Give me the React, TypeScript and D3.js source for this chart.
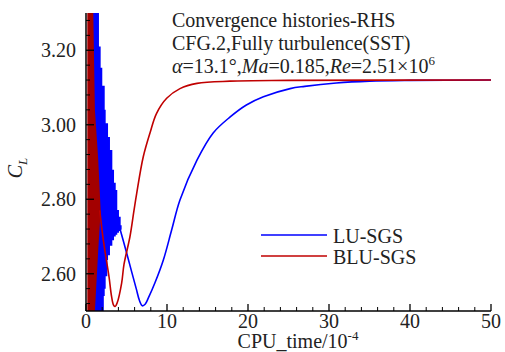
import React from "react";
import * as d3 from "d3";

// ---- data ----
const xTicks = [0, 10, 20, 30, 40, 50];
const yTicks = [2.6, 2.8, 3.0, 3.2];

// dense oscillation envelopes: [cpu_time, lower, upper]
const luBand: [number, number, number][] = [
  [0.3, 2.5, 3.3],
  [1.6, 2.5, 3.21],
  [1.81, 2.5, 3.153],
  [2.01, 2.5, 3.105],
  [2.2, 2.54, 3.105],
  [2.31, 2.56, 3.04],
  [2.43, 2.593, 3.004],
  [2.63, 2.637, 3.004],
  [2.72, 2.65, 2.967],
  [2.96, 2.675, 2.932],
  [3.25, 2.69, 2.879],
  [3.46, 2.7, 2.844],
  [3.67, 2.705, 2.825],
  [3.86, 2.71, 2.771],
  [4.07, 2.715, 2.753],
  [4.28, 2.718, 2.73],
  [4.4, 2.718, 2.72],
];
const bluBand: [number, number, number][] = [
  [0.16, 2.5, 3.3],
  [0.9, 2.5, 3.3],
  [1.1, 2.5, 3.04],
  [1.5, 2.66, 2.91],
  [1.8, 2.765, 2.775],
];

// smooth parts: [cpu_time, CL]
const luLine: [number, number][] = [
  [4.2, 2.72], [4.9, 2.665], [5.64, 2.605], [6.2, 2.56], [6.6, 2.528],
  [6.95, 2.514], [7.3, 2.518], [7.7, 2.535], [8.5, 2.575], [9.55, 2.637],
  [10.58, 2.718], [11.6, 2.798], [13.7, 2.905], [15.7, 2.978], [17.8, 3.021],
  [19.8, 3.053], [21.9, 3.075], [25.2, 3.097], [27, 3.103], [30.9, 3.112],
  [35, 3.117], [40, 3.119], [50, 3.12],
];
const bluLine: [number, number][] = [
  [1.7, 2.77], [2.14, 2.69], [2.84, 2.592], [3.15, 2.54], [3.4, 2.516],
  [3.6, 2.512], [3.85, 2.522], [4.4, 2.575], [4.69, 2.625], [5.43, 2.7],
  [5.93, 2.771], [6.26, 2.816], [7.07, 2.914], [7.9, 2.978], [8.7, 3.03],
  [9.96, 3.071], [11.6, 3.097], [13.7, 3.111], [17.8, 3.117], [25, 3.119],
  [50, 3.12],
];

const BLUE = "#0000ff";
const RED = "#c00000";
const RED_FILL = "#a30000";
const FONT = "Liberation Serif, Times New Roman, serif";
const TXT = "#222";

export default function App() {
  const W = 505, H = 352;
  const x = d3.scaleLinear().domain([0, 50]).range([86, 491]);
  const y = d3.scaleLinear().domain([2.5, 3.3]).range([311, 13]);

  const luArea =
    d3
      .area<[number, number, number]>()
      .x((d) => x(d[0]))
      .y0((d) => y(d[1]))
      .y1((d) => y(d[2]))
      .curve(d3.curveStepAfter)(luBand) || "";
  const bluArea =
    d3
      .area<[number, number, number]>()
      .x((d) => x(d[0]))
      .y0((d) => y(d[1]))
      .y1((d) => y(d[2]))(bluBand) || "";
  const line = d3
    .line<[number, number]>()
    .x((d) => x(d[0]))
    .y((d) => y(d[1]))
    .curve(d3.curveCatmullRom.alpha(0.5));

  const xMinor = d3.range(0, 50.001, 2).filter((v) => v % 10 !== 0);
  const yMinor = d3
    .range(2.52, 3.3, 0.04)
    .filter((v) => Math.abs(Math.round(v * 5) - v * 5) > 0.01);

  const ts = { fontFamily: FONT };

  return (
    <svg
      width={W}
      height={H}
      style={{ position: "absolute", left: 0, top: 0, background: "#fff", fontFamily: FONT }}
    >
      <defs>
        <clipPath id="plot">
          <rect x={86} y={13} width={405} height={298} />
        </clipPath>
      </defs>
      <g clipPath="url(#plot)">
        <path d={luArea} fill={BLUE} />
        <path d={line(luLine) || ""} fill="none" stroke={BLUE} strokeWidth={1.6} />
        <path d={bluArea} fill={RED_FILL} />
        <path d={line(bluLine) || ""} fill="none" stroke={RED} strokeWidth={1.6} />
      </g>

      {/* axes */}
      <line x1={x(0)} x2={x(50)} y1={y(2.5)} y2={y(2.5)} stroke="#000" strokeWidth={1.5} />
      <line x1={x(0)} x2={x(0)} y1={y(2.5)} y2={y(3.3)} stroke="#000" strokeWidth={1.5} />
      {xTicks.map((t) => (
        <g key={"xt" + t}>
          <line x1={x(t)} x2={x(t)} y1={y(2.5)} y2={y(2.5) - 7} stroke="#000" strokeWidth={1.3} />
          <text x={x(t)} y={328} textAnchor="middle" fontSize={20} fill={TXT} style={ts}>
            {t}
          </text>
        </g>
      ))}
      {xMinor.map((t) => (
        <line key={"xm" + t} x1={x(t)} x2={x(t)} y1={y(2.5)} y2={y(2.5) - 4} stroke="#000" strokeWidth={1} />
      ))}
      {yTicks.map((t) => (
        <g key={"yt" + t}>
          <line x1={x(0)} x2={x(0) + 8} y1={y(t)} y2={y(t)} stroke="#000" strokeWidth={1.3} />
          <text x={76} y={y(t) + 7} textAnchor="end" fontSize={20} fill={TXT} style={ts}>
            {t.toFixed(2)}
          </text>
        </g>
      ))}
      {yMinor.map((t) => (
        <line key={"ym" + t} x1={x(0)} x2={x(0) + 4} y1={y(t)} y2={y(t)} stroke="#000" strokeWidth={1} />
      ))}

      {/* axis titles */}
      <text x={298} y={348} textAnchor="middle" fontSize={20} fill={TXT} style={ts}>
        CPU_time/10
        <tspan fontSize={13} dy={-8}>-4</tspan>
      </text>
      <text
        transform="translate(22,168) rotate(-90)"
        textAnchor="middle"
        fontSize={20}
        fill={TXT}
        fontStyle="italic"
        style={ts}
      >
        C<tspan fontSize={13} dy={5}>L</tspan>
      </text>

      {/* annotation */}
      <g fontSize={20} fill={TXT} style={ts}>
        <text x={172} y={27} style={ts}>Convergence histories-RHS</text>
        <text x={172} y={50} style={ts}>CFG.2,Fully turbulence(SST)</text>
        <text x={172} y={73} style={ts}>
          <tspan fontStyle="italic">α</tspan>=13.1°,<tspan fontStyle="italic">Ma</tspan>=0.185,<tspan fontStyle="italic">Re</tspan>=2.51×10<tspan fontSize={13} dy={-8}>6</tspan>
        </text>
      </g>

      {/* legend */}
      <line x1={261} x2={327} y1={235} y2={235} stroke={BLUE} strokeWidth={1.6} />
      <line x1={261} x2={327} y1={256} y2={256} stroke={RED} strokeWidth={1.6} />
      <text x={333} y={243} fontSize={20} fill={TXT} style={ts}>LU-SGS</text>
      <text x={333} y={264} fontSize={20} fill={TXT} style={ts}>BLU-SGS</text>
    </svg>
  );
}
